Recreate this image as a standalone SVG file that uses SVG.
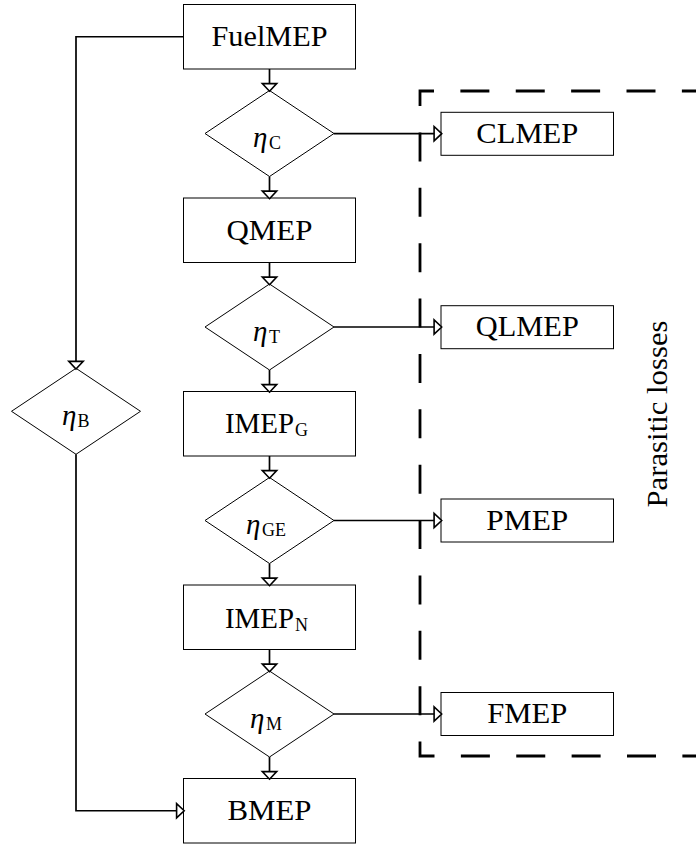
<svg xmlns="http://www.w3.org/2000/svg" width="696" height="845" viewBox="0 0 696 845">
<style>
.box{fill:#fff;stroke:#000;stroke-width:1}
.dia{fill:#fff;stroke:#000;stroke-width:1}
text{font-family:"Liberation Serif","Times New Roman","DejaVu Serif",serif;fill:#000}
.lbl{font-size:29px}
.eta{font-size:29px;font-style:italic}
.sub{font-size:18px}
.con{fill:none;stroke:#000;stroke-width:1.7;marker-end:url(#arr)}
.dash{fill:none;stroke:#000;stroke-width:2.8;stroke-dasharray:29 26.375;stroke-dashoffset:46.25}
</style>
<defs>
<marker id="arr" viewBox="-12 -10 14 20" refX="-0.7" refY="0" markerWidth="14" markerHeight="20" orient="auto" markerUnits="userSpaceOnUse">
<path d="M0,0 L-7.6,-7.2 L-7.6,7.2 Z" fill="#fff" stroke="#000" stroke-width="1.6" stroke-linejoin="miter"/>
</marker>
</defs>
<rect width="696" height="845" fill="#fff"/>
<g id="parasitic">
<path class="dash" d="M720,91 H420 V756 H720"/>
<text class="lbl" text-anchor="middle" textLength="187" lengthAdjust="spacingAndGlyphs" transform="translate(667,414) rotate(-90)">Parasitic losses</text>
</g>
<g id="fuelmep"><rect class="box" x="183.5" y="4.5" width="172" height="64.5"/><text class="lbl" x="269.5" y="46" text-anchor="middle" textLength="116" lengthAdjust="spacingAndGlyphs">FuelMEP</text></g>
<g id="etaC"><polygon class="dia" points="269.5,90.5 334,133.5 269.5,176.5 205,133.5"/><text class="eta" x="253" y="147">η</text><text class="sub" x="269" y="149">C</text></g>
<g id="qmep"><rect class="box" x="183.5" y="198" width="172" height="64.5"/><text class="lbl" x="269.5" y="239.5" text-anchor="middle" textLength="86" lengthAdjust="spacingAndGlyphs">QMEP</text></g>
<g id="etaT"><polygon class="dia" points="269.5,284 334,327 269.5,370 205,327"/><text class="eta" x="253" y="340.5">η</text><text class="sub" x="269" y="342.5">T</text></g>
<g id="imepg"><rect class="box" x="183.5" y="391.5" width="172" height="64.5"/><text class="lbl" x="225" y="433" textLength="69" lengthAdjust="spacingAndGlyphs">IMEP</text><text class="sub" x="295" y="436">G</text></g>
<g id="etaGE"><polygon class="dia" points="269.5,477.5 334,520.5 269.5,563.5 205,520.5"/><text class="eta" x="246" y="534">η</text><text class="sub" x="262" y="536">GE</text></g>
<g id="imepn"><rect class="box" x="183.5" y="585" width="172" height="64.5"/><text class="lbl" x="225" y="627.5" textLength="69" lengthAdjust="spacingAndGlyphs">IMEP</text><text class="sub" x="295" y="630.5">N</text></g>
<g id="etaM"><polygon class="dia" points="269.5,671 334,714 269.5,757 205,714"/><text class="eta" x="250" y="727.5">η</text><text class="sub" x="266" y="729.5">M</text></g>
<g id="bmep"><rect class="box" x="183.5" y="778.5" width="172" height="64.5"/><text class="lbl" x="269.5" y="820" text-anchor="middle" textLength="84" lengthAdjust="spacingAndGlyphs">BMEP</text></g>
<g id="etaB"><polygon class="dia" points="76,368.3 140.5,411.3 76,454.3 11.5,411.3"/><text class="eta" x="62" y="424.5">η</text><text class="sub" x="77.5" y="426.5">B</text></g>
<g id="clmep"><rect class="box" x="441" y="112.3" width="172.5" height="43"/><text class="lbl" x="527.3" y="142.7" text-anchor="middle" textLength="102" lengthAdjust="spacingAndGlyphs">CLMEP</text></g>
<g id="qlmep"><rect class="box" x="441" y="305.7" width="172.5" height="43"/><text class="lbl" x="527.3" y="336" text-anchor="middle" textLength="103" lengthAdjust="spacingAndGlyphs">QLMEP</text></g>
<g id="pmep"><rect class="box" x="441" y="499" width="172.5" height="43"/><text class="lbl" x="527.3" y="530" text-anchor="middle" textLength="82" lengthAdjust="spacingAndGlyphs">PMEP</text></g>
<g id="fmep"><rect class="box" x="441" y="692.5" width="172.5" height="43"/><text class="lbl" x="527.3" y="723.3" text-anchor="middle" textLength="80" lengthAdjust="spacingAndGlyphs">FMEP</text></g>
<g id="connectors">
<path class="con" d="M269.5,69 V90.5"/>
<path class="con" d="M269.5,176.5 V198"/>
<path class="con" d="M269.5,262.5 V284"/>
<path class="con" d="M269.5,370 V391.5"/>
<path class="con" d="M269.5,456 V477.5"/>
<path class="con" d="M269.5,563.5 V585"/>
<path class="con" d="M269.5,649.5 V671"/>
<path class="con" d="M269.5,757 V778.5"/>
<path class="con" d="M334,133.7 H441"/>
<path class="con" d="M334,327 H441"/>
<path class="con" d="M334,520.5 H441"/>
<path class="con" d="M334,714 H441"/>
<path class="con" d="M183.5,36.75 H76 V368.3"/>
<path class="con" d="M76,454.3 V810.75 H183.5"/>
</g>
</svg>
